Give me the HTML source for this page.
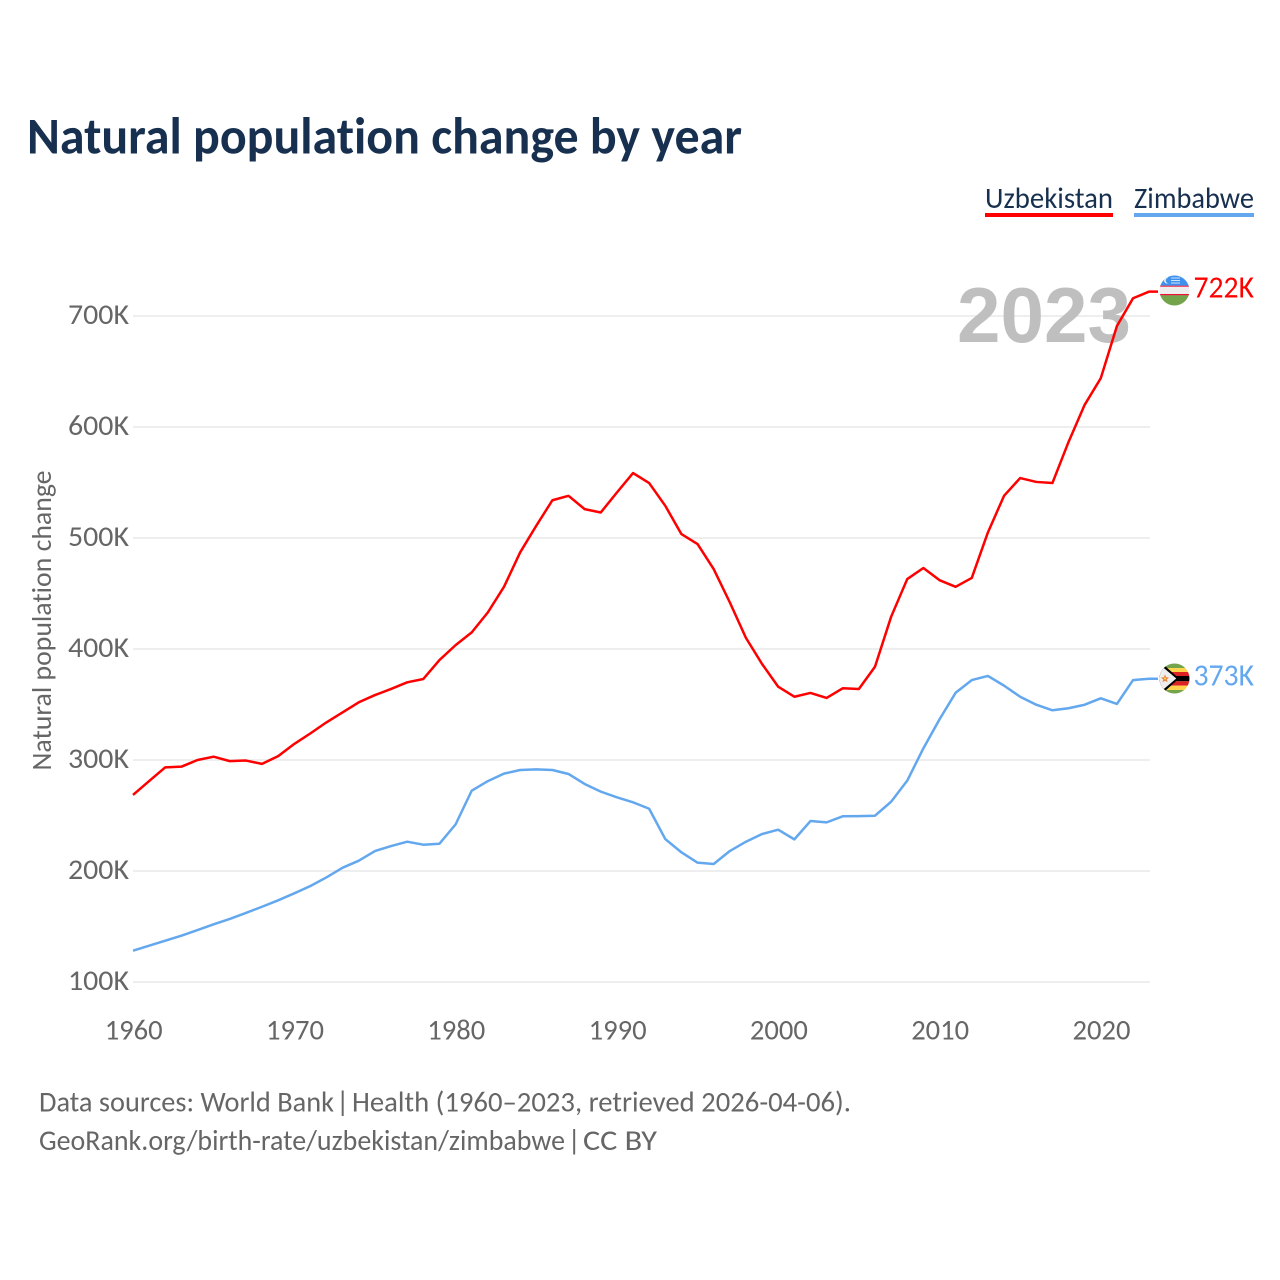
<!DOCTYPE html>
<html lang="en">
<head>
<meta charset="utf-8">
<title>Natural population change by year</title>
<style>
  html, body { margin: 0; padding: 0; background: #fff; }
  svg { display: block; }
  text { font-family: "Carlito", "Lato", "Liberation Sans", sans-serif; font-variant-ligatures: none; }
</style>
</head>
<body>
<svg id="chart" xmlns="http://www.w3.org/2000/svg" width="1280" height="1280" viewBox="0 0 1280 1280">
  <defs>
    <clipPath id="flag-clip-uz"><circle cx="1174.5" cy="290.5" r="15"/></clipPath>
    <clipPath id="flag-clip-zw"><circle cx="1174.5" cy="678.5" r="15"/></clipPath>
  </defs>
  <rect width="1280" height="1280" fill="#ffffff"/>
  <text x="27" y="153.5" font-size="52" font-weight="700" fill="#18304f" textLength="715" lengthAdjust="spacingAndGlyphs">Natural population change by year</text>

  <g>
    <text x="985" y="208" font-size="30" fill="#18304f" textLength="128" lengthAdjust="spacingAndGlyphs">Uzbekistan</text>
    <rect x="985" y="213" width="128" height="4" fill="#ff0000"/>
  </g>
  <g>
    <text x="1134" y="208" font-size="30" fill="#18304f" textLength="120" lengthAdjust="spacingAndGlyphs">Zimbabwe</text>
    <rect x="1134" y="213" width="120" height="4" fill="#63a8ee"/>
  </g>

  <g id="grid"></g>
  <g id="y-ticks"></g>
  <g id="x-ticks"></g>

  <text transform="translate(51,620.5) rotate(-90)" text-anchor="middle" font-size="28" fill="#666666" textLength="300" lengthAdjust="spacingAndGlyphs">Natural population change</text>

  <text x="957" y="342" font-size="78" font-weight="700" fill="#bfbfbf" style="font-family:'Liberation Sans',sans-serif" textLength="174" lengthAdjust="spacingAndGlyphs">2023</text>

  <g id="series"></g>

  <g clip-path="url(#flag-clip-uz)">
    <rect x="1159" y="275" width="31" height="10.8" fill="#3f91ee"/>
    <rect x="1159" y="285.7" width="31" height="1.1" fill="#ee1133"/>
    <rect x="1159" y="286.8" width="31" height="7.3" fill="#eeeeee"/>
    <rect x="1159" y="294" width="31" height="1.4" fill="#ee1133"/>
    <rect x="1159" y="295.3" width="31" height="11" fill="#73a34a"/>
    <circle cx="1167" cy="280.5" r="3" fill="#eeeeee"/>
    <circle cx="1168.3" cy="280.5" r="2.6" fill="#3f91ee"/>
    <rect x="1171" y="277.5" width="9" height="1" fill="#cfe3fa"/>
    <rect x="1171" y="280" width="9" height="1" fill="#cfe3fa"/>
    <rect x="1171" y="282.5" width="9" height="1" fill="#cfe3fa"/>
  </g>
  <g clip-path="url(#flag-clip-zw)">
    <rect x="1159" y="663" width="31" height="5" fill="#73a34a"/>
    <rect x="1159" y="668" width="31" height="4" fill="#ffd44d"/>
    <rect x="1159" y="672" width="31" height="4" fill="#dd2222"/>
    <rect x="1159" y="676" width="31" height="5.3" fill="#000000"/>
    <rect x="1159" y="681.3" width="31" height="4.4" fill="#dd2222"/>
    <rect x="1159" y="685.7" width="31" height="4.3" fill="#ffd44d"/>
    <rect x="1159" y="690" width="31" height="4" fill="#73a34a"/>
    <polygon points="1159,663 1161.7,663 1179,678.5 1161.7,694 1159,694" fill="#000000"/>
    <polygon points="1159,664 1159,693 1176.3,678.5" fill="#eeeeee"/>
    <polygon points="1165,674.5 1166.2,677.3 1169,677.6 1166.8,679.4 1167.5,682.2 1165,680.7 1162.5,682.2 1163.2,679.4 1161,677.6 1163.8,677.3" fill="#e8823a"/>
    <circle cx="1165" cy="678.5" r="1.1" fill="#ffd44d"/>
  </g>

  <text x="1193.5" y="297.3" font-size="31" fill="#ff0000" textLength="60.5" lengthAdjust="spacingAndGlyphs">722K</text>
  <text x="1193.5" y="685.3" font-size="31" fill="#63a8ee" textLength="60.5" lengthAdjust="spacingAndGlyphs">373K</text>

  <text y="1111.5" font-size="29" fill="#666666"><tspan x="39" textLength="295" lengthAdjust="spacingAndGlyphs">Data sources: World Bank</tspan> <tspan x="336">|</tspan> <tspan x="352" textLength="499" lengthAdjust="spacingAndGlyphs">Health (1960–2023, retrieved 2026-04-06).</tspan></text>
  <text y="1150" font-size="29" fill="#666666"><tspan x="39" textLength="526" lengthAdjust="spacingAndGlyphs">GeoRank.org/birth-rate/uzbekistan/zimbabwe</tspan> <tspan x="567.5">|</tspan> <tspan x="583" textLength="74" lengthAdjust="spacingAndGlyphs">CC BY</tspan></text>
</svg>
<script>
const startYear = 1960;
const uzbekistanValues = [268.5,281,293.4,294,300,303,299,299.5,296.5,303.5,314.5,324,334,343,352,358.5,364,370,373,390,403.5,415,433,456,487,511,534,538,526,523,541,558.5,549.5,529,503.5,494.5,472,442,410,386.5,366,357,360.4,355.9,364.6,364,384,429,463,473,462,456,464,505,538,554,550.5,549.5,586.5,620,644,691,716,722];
const zimbabweValues = [128.2,132.7,137.2,141.7,146.8,152,156.8,162.2,167.8,173.6,179.9,186.5,194.3,203,209.3,218,222.5,226.4,223.7,224.6,242,272.4,281,287.7,291,291.6,291,287.4,278.4,271.5,266.4,261.9,256.1,228.8,216.8,207.5,206.3,218,226.4,233.3,237.2,228.5,245,243.8,249.3,249.4,249.8,262.4,281.4,310.5,336.6,360.6,372,375.7,367,357,349.8,344.8,346.6,349.8,355.6,350.5,372,373.2];
const yTickValues = [100,200,300,400,500,600,700];
const xTickYears = [1960,1970,1980,1990,2000,2010,2020];

const NS = 'http://www.w3.org/2000/svg';
function xScale(year) { return 133 + (year - 1960) * 16.13; }
function yScale(value) { return 982 - (value - 100) * 1.11; }
function make(tag, parent) {
  const el = document.createElementNS(NS, tag);
  parent.appendChild(el);
  return el;
}

const gridGroup = document.getElementById('grid');
const yTickGroup = document.getElementById('y-ticks');
const xTickGroup = document.getElementById('x-ticks');
const seriesGroup = document.getElementById('series');

yTickValues.forEach(function (v) {
  const line = make('line', gridGroup);
  
  
  line.setAttribute('x1', 133);
  line.setAttribute('x2', 1150);
  line.setAttribute('y1', yScale(v));
  line.setAttribute('y2', yScale(v));
  line.setAttribute('stroke', '#eeeeee');
  line.setAttribute('stroke-width', 2);

  const label = make('text', yTickGroup);
  
  
  label.setAttribute('x', 68);
  label.setAttribute('y', yScale(v) + 8);
  label.setAttribute('font-size', 29);
  label.setAttribute('fill', '#666666');
  label.setAttribute('textLength', 61);
  label.setAttribute('lengthAdjust', 'spacingAndGlyphs');
  label.textContent = v + 'K';
});

xTickYears.forEach(function (yr) {
  const label = make('text', xTickGroup);
  
  
  label.setAttribute('x', xScale(yr) + 0.7);
  label.setAttribute('y', 1039.5);
  label.setAttribute('font-size', 29);
  label.setAttribute('text-anchor', 'middle');
  label.setAttribute('fill', '#666666');
  label.setAttribute('textLength', 58);
  label.setAttribute('lengthAdjust', 'spacingAndGlyphs');
  label.textContent = yr;
});

function linePoints(values) {
  const pts = values.map(function (v, i) {
    return xScale(startYear + i).toFixed(2) + ',' + yScale(v).toFixed(2);
  });
  const last = values[values.length - 1];
  pts.push('1158,' + yScale(last).toFixed(2));
  return pts.join(' ');
}

const zimbabweLine = make('polyline', seriesGroup);


zimbabweLine.setAttribute('points', linePoints(zimbabweValues));
zimbabweLine.setAttribute('fill', 'none');
zimbabweLine.setAttribute('stroke', '#63a8ee');
zimbabweLine.setAttribute('stroke-width', 2.5);
zimbabweLine.setAttribute('stroke-linejoin', 'round');

const uzbekistanLine = make('polyline', seriesGroup);


uzbekistanLine.setAttribute('points', linePoints(uzbekistanValues));
uzbekistanLine.setAttribute('fill', 'none');
uzbekistanLine.setAttribute('stroke', '#ff0000');
uzbekistanLine.setAttribute('stroke-width', 2.5);
uzbekistanLine.setAttribute('stroke-linejoin', 'round');
</script>
</body>
</html>
